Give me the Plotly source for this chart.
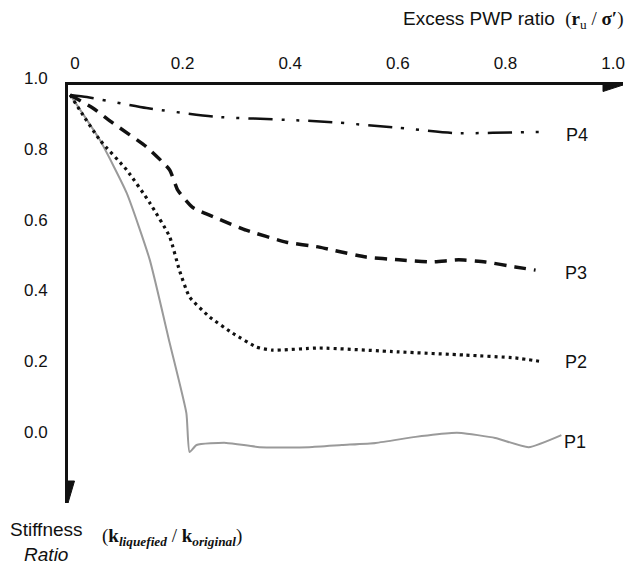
import plotly.graph_objects as go

# ---- data ----
p1_x = [0.004, 0.059, 0.109, 0.152, 0.189, 0.220, 0.226, 0.239, 0.294, 0.356, 0.448, 0.509, 0.572, 0.646, 0.713, 0.731, 0.794, 0.856, 0.917]
p1_y = [0.972, 0.845, 0.695, 0.506, 0.271, 0.073, -0.037, -0.017, -0.011, -0.023, -0.023, -0.017, -0.011, 0.006, 0.017, 0.017, 0.003, -0.023, 0.011]

p2_x = [0.004, 0.022, 0.059, 0.109, 0.152, 0.189, 0.207, 0.226, 0.263, 0.306, 0.350, 0.380, 0.467, 0.615, 0.739, 0.831, 0.883]
p2_y = [0.972, 0.929, 0.845, 0.760, 0.667, 0.571, 0.477, 0.401, 0.345, 0.299, 0.260, 0.251, 0.257, 0.246, 0.237, 0.229, 0.218]

p3_x = [0.004, 0.046, 0.083, 0.146, 0.189, 0.204, 0.231, 0.276, 0.331, 0.406, 0.467, 0.491, 0.554, 0.615, 0.676, 0.726, 0.776, 0.831, 0.869]
p3_y = [0.972, 0.935, 0.893, 0.825, 0.760, 0.703, 0.655, 0.624, 0.590, 0.556, 0.542, 0.534, 0.514, 0.506, 0.500, 0.506, 0.500, 0.486, 0.477]

p4_x = [0.004, 0.035, 0.146, 0.276, 0.417, 0.491, 0.615, 0.720, 0.861, 0.889]
p4_y = [0.972, 0.966, 0.935, 0.910, 0.901, 0.895, 0.879, 0.864, 0.867, 0.867]

series_names = ["P1", "P2", "P3", "P4"]
label_x = [0.943, 0.944, 0.944, 0.946]
label_y = [-0.008, 0.218, 0.469, 0.859]

x_ticks = [0, 0.2, 0.4, 0.6, 0.8, 1.0]
x_ticktext = ["0", "0.2", "0.4", "0.6", "0.8", "1.0"]
y_ticks = [0, 0.2, 0.4, 0.6, 0.8, 1.0]
y_ticktext = ["0.0", "0.2", "0.4", "0.6", "0.8", "1.0"]

X_MAX = 1.0315
Y_MIN = -0.1808

fig = go.Figure()

fig.add_trace(go.Scatter(x=p1_x, y=p1_y, mode="lines", name="P1",
                         line=dict(color="#9a9a9a", width=2, shape="spline", smoothing=0.5)))
fig.add_trace(go.Scatter(x=p2_x, y=p2_y, mode="lines", name="P2",
                         line=dict(color="#111111", width=3.2, dash="3px,4px", shape="spline", smoothing=0.5)))
fig.add_trace(go.Scatter(x=p3_x, y=p3_y, mode="lines", name="P3",
                         line=dict(color="#111111", width=3.5, dash="12px,8px", shape="spline", smoothing=0.5)))
fig.add_trace(go.Scatter(x=p4_x, y=p4_y, mode="lines", name="P4",
                         line=dict(color="#111111", width=2.5, dash="24px,9px,3px,12px,3px,9px", shape="spline", smoothing=0.5)))

annotations = []
for name, lx, ly in zip(series_names, label_x, label_y):
    annotations.append(dict(x=lx, y=ly, xref="x", yref="y", text=name, showarrow=False,
                            xanchor="center", yanchor="middle",
                            font=dict(family="Liberation Sans", size=18, color="#111111")))

annotations.append(dict(
    x=(402 - 68) / 557, y=(503 - 20) / 418, xref="paper", yref="paper",
    xanchor="left", yanchor="middle", showarrow=False,
    text='Excess PWP ratio&nbsp;&nbsp;<span style="font-family:Liberation Serif">(<b>r</b><sub>u</sub> / <b>σ′</b>)</span>',
    font=dict(family="Liberation Sans", size=19, color="#111111")))
annotations.append(dict(
    x=(46 - 68) / 557, y=(503 - 542) / 418, xref="paper", yref="paper",
    xanchor="center", yanchor="middle", showarrow=False, align="center",
    text="Stiffness<br><i>Ratio</i>",
    font=dict(family="Liberation Sans", size=19, color="#111111")))
annotations.append(dict(
    x=(100 - 68) / 557, y=(503 - 537) / 418, xref="paper", yref="paper",
    xanchor="left", yanchor="middle", showarrow=False,
    text="(<b>k</b><sub><b><i>liquefied</i></b></sub> / <b>k</b><sub><b><i>original</i></b></sub>)",
    font=dict(family="Liberation Serif", size=19, color="#111111")))

shapes = [
    dict(type="path", xref="x", yref="y", xsizemode="pixel", ysizemode="pixel",
         xanchor=X_MAX, yanchor=1.0, path="M0,0 L-20,6.5 L-20,-6.5 Z",
         fillcolor="#111111", line=dict(color="#111111", width=1)),
    dict(type="path", xref="x", yref="y", xsizemode="pixel", ysizemode="pixel",
         xanchor=0.0, yanchor=Y_MIN, path="M0,0 L-6.5,22 L6.5,22 Z",
         fillcolor="#111111", line=dict(color="#111111", width=1)),
]

fig.update_layout(
    width=636, height=566,
    margin=dict(l=68, r=11, t=85, b=63),
    paper_bgcolor="white", plot_bgcolor="white",
    showlegend=False,
    annotations=annotations,
    shapes=shapes,
    xaxis=dict(range=[0, X_MAX], side="top", tickvals=x_ticks, ticktext=x_ticktext,
               showgrid=False, zeroline=False, ticks="", showline=True, linecolor="#111111",
               linewidth=3, ticklabelshift=7, ticklabelstandoff=6,
               tickfont=dict(family="Liberation Sans", size=17, color="#111111")),
    yaxis=dict(range=[Y_MIN, 1.0], tickvals=y_ticks, ticktext=y_ticktext,
               showgrid=False, zeroline=False, ticks="", showline=True, linecolor="#111111",
               linewidth=3, ticklabelshift=-7, ticklabelstandoff=14,
               tickfont=dict(family="Liberation Sans", size=17, color="#111111")),
)

fig.write_html("out.html")
